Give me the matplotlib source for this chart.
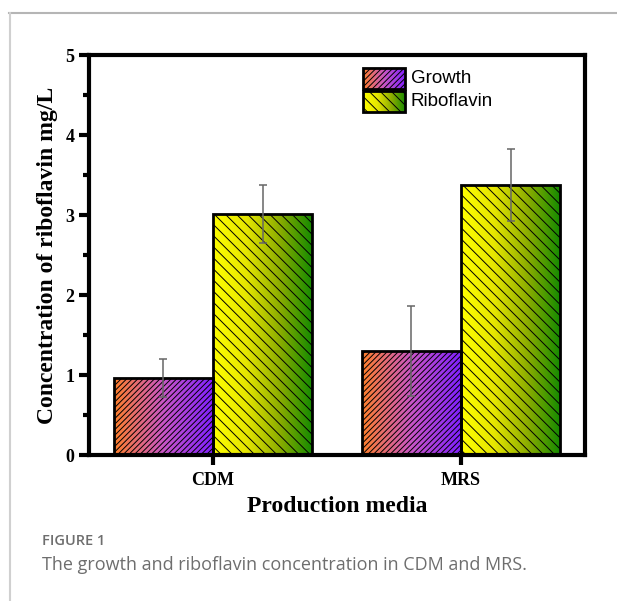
import matplotlib.pyplot as plt
import numpy as np
from matplotlib.colors import LinearSegmentedColormap
from matplotlib.lines import Line2D
from matplotlib.patches import Rectangle

media = ["CDM", "MRS"]
growth = [0.96, 1.30]
growth_err = [0.24, 0.56]
riboflavin = [3.01, 3.37]
riboflavin_err = [0.36, 0.45]

fig = plt.figure(figsize=(6.17, 6.01), dpi=100)

# card frame lines (top and left)
fig.add_artist(Line2D([9 / 617, 1], [1 - 13 / 601, 1 - 13 / 601], color="#b5b5b5", lw=1.5))
fig.add_artist(Line2D([10 / 617, 10 / 617], [0, 1 - 13 / 601], color="#d0d0d0", lw=1.5))

ax = fig.add_axes([89 / 617, 1 - 455 / 601, (585 - 89) / 617, 400 / 601])

cm_growth = LinearSegmentedColormap.from_list("g", ["#ff7f2a", "#c855c8", "#7f1fff"])
cm_ribo = LinearSegmentedColormap.from_list("r", ["#ffff00", "#e6e600", "#8cad00", "#138a00"])

x = np.arange(1, len(media) + 1)
w = 0.4
grad = np.linspace(0, 1, 256).reshape(1, -1)


def gradient_box(x0, y0, bw, bh, cmap, hatch, z):
    im = ax.imshow(grad, cmap=cmap, aspect="auto", extent=(x0, x0 + bw, y0, y0 + bh),
                   zorder=z, interpolation="bilinear")
    clip = Rectangle((x0, y0), bw, bh, transform=ax.transData, facecolor="none")
    im.set_clip_path(clip)
    ax.add_patch(Rectangle((x0, y0), bw, bh, facecolor="none", edgecolor="black",
                           lw=2, hatch=hatch, zorder=z + 1))


plt.rcParams["hatch.linewidth"] = 0.7
for xc, v in zip(x - w / 2, growth):
    gradient_box(xc - w / 2, 0, w, v, cm_growth, "//////", 2)
for xc, v in zip(x + w / 2, riboflavin):
    gradient_box(xc - w / 2, 0, w, v, cm_ribo, "\\\\\\", 2)

ax.errorbar(x - w / 2, growth, yerr=growth_err, fmt="none", ecolor="#666666",
            elinewidth=1.1, capsize=3, capthick=1.1, zorder=4)
ax.errorbar(x + w / 2, riboflavin, yerr=riboflavin_err, fmt="none", ecolor="#666666",
            elinewidth=1.1, capsize=3, capthick=1.1, zorder=4)

ax.set_xlim(0.5, 2.5)
ax.set_ylim(0, 5)
ax.set_xticks(x)
ax.set_xticklabels(media)
ax.set_yticks(range(6))
ax.set_yticks(np.arange(0.5, 5, 1), minor=True)
for s in ax.spines.values():
    s.set_linewidth(3)
ax.tick_params(axis="both", which="major", direction="out", length=7, width=3,
               labelsize=13)
ax.tick_params(axis="x", which="major", pad=5)
ax.tick_params(axis="y", which="minor", direction="out", length=4, width=3)
for lab in ax.get_xticklabels() + ax.get_yticklabels():
    lab.set_fontfamily("Liberation Serif")
    lab.set_fontweight("bold")

ax.set_xlabel("Production media", fontfamily="Liberation Serif", fontweight="bold",
              fontsize=17, labelpad=5)
ax.set_ylabel("Concentration of riboflavin mg/L", fontfamily="Liberation Serif",
              fontweight="bold", fontsize=17, labelpad=5)

# legend with gradient swatches
legend_items = [("Growth", cm_growth, "//////"), ("Riboflavin", cm_ribo, "\\\\\\")]
for i, (name, cmap, hatch) in enumerate(legend_items):
    lx0, lw_ = 1.603, 0.17
    ly1 = 4.84 - i * 0.29
    lh = 0.26
    gradient_box(lx0, ly1 - lh, lw_, lh, cmap, hatch, 5)
    ax.text(lx0 + lw_ + 0.025, ly1 - lh / 2, name, fontfamily="Liberation Sans",
            fontsize=13.5, va="center", ha="left", zorder=7)

fig.text(42 / 617, 1 - 541 / 601, "FIGURE 1", fontfamily="Open Sans",
         fontweight="semibold", fontsize=10.5, color="#6e6e6e", va="center")
fig.text(42 / 617, 1 - 565 / 601,
         "The growth and riboflavin concentration in CDM and MRS.",
         fontfamily="Open Sans", fontsize=13, color="#6e6e6e", va="center")

fig.savefig("out.png", dpi=100)
